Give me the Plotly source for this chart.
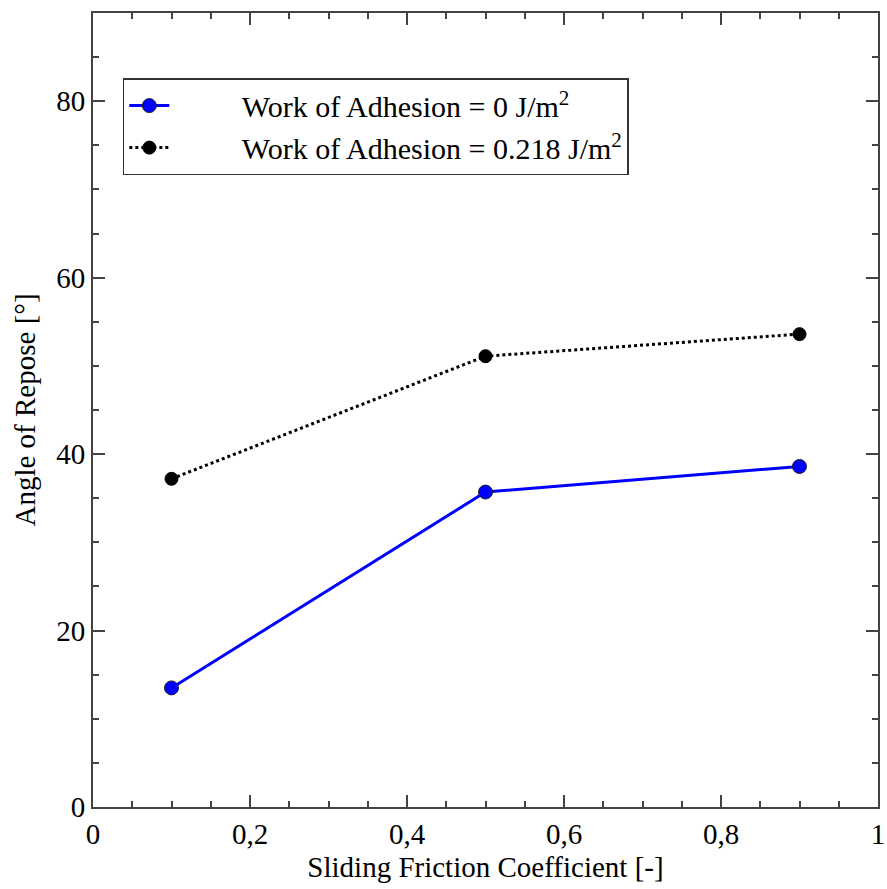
import plotly.graph_objects as go

friction = [0.1, 0.5, 0.9]
angle_w0 = [13.5, 35.7, 38.6]
angle_w218 = [37.2, 51.1, 53.6]
name_w0 = "Work of Adhesion = 0 J/m<sup>2</sup>"
name_w218 = "Work of Adhesion = 0.218 J/m<sup>2</sup>"

font = "Liberation Serif, Times New Roman, serif"
pad = "\u00a0" * 9

fig = go.Figure()
fig.add_trace(go.Scatter(
    x=friction, y=angle_w0, mode="lines+markers", name=pad + name_w0,
    line=dict(color="#0000ff", width=3),
    marker=dict(size=14, color="#0000ff", line=dict(color="#222222", width=1)),
))
fig.add_trace(go.Scatter(
    x=friction, y=angle_w218, mode="lines+markers", name=pad + name_w218,
    line=dict(color="black", width=3, dash="dot"),
    marker=dict(size=13, color="black", line=dict(color="black", width=1)),
))

axis_common = dict(
    showline=True, linecolor="#444444", linewidth=2, mirror="allticks",
    ticks="inside", ticklen=12, tickwidth=1.5, tickcolor="#444444",
    showgrid=False, zeroline=False, ticklabeloverflow="allow",
    tickfont=dict(family=font, size=29, color="black"),
)
fig.update_xaxes(
    range=[0, 1], tickvals=[0, 0.2, 0.4, 0.6, 0.8, 1],
    minor=dict(ticks="inside", ticklen=6, dtick=0.05, tickcolor="#444444", tickwidth=1.5, showgrid=False),
    title=dict(text="Sliding Friction Coefficient [-]", font=dict(family=font, size=29, color="black"), standoff=8),
    **axis_common,
)
fig.update_yaxes(
    range=[0, 90], tickvals=[0, 20, 40, 60, 80],
    minor=dict(ticks="inside", ticklen=6, dtick=5, tickcolor="#444444", tickwidth=1.5, showgrid=False),
    title=dict(text="Angle of Repose [°]", font=dict(family=font, size=29, color="black"), standoff=12),
    **axis_common,
)
fig.update_layout(
    width=887, height=889,
    margin=dict(l=93, r=2, t=13, b=82),
    plot_bgcolor="white", paper_bgcolor="white",
    separators=",.",
    showlegend=True,
    legend=dict(
        x=0.038, y=0.918, xanchor="left", yanchor="top",
        bgcolor="white", bordercolor="#333333", borderwidth=1.5,
        font=dict(family=font, size=30, color="black"),
        itemwidth=40, tracegroupgap=0,
    ),
)
fig.write_html("out.html")
